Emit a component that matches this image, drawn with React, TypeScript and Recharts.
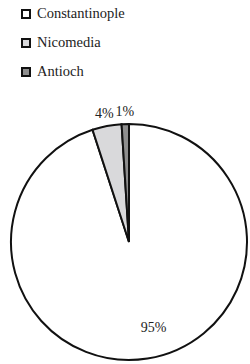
import { Cell, Pie, PieChart } from 'recharts'

const cities = ['Constantinople', 'Nicomedia', 'Antioch']
const shares = [95, 4, 1]
const fills = ['#ffffff', '#d9d9db', '#8e8e8e']

const data = cities.map((name, i) => ({ name, value: shares[i] }))

const FONT = '"Liberation Serif", "DejaVu Serif", serif'
const RAD = Math.PI / 180

function renderLabel(props: any) {
  const { cx, cy, midAngle, outerRadius, value } = props
  // the big slice keeps its label inside, the thin ones sit just above the rim
  const inside = value > 50
  const r = inside ? outerRadius * 0.73 : outerRadius + 13
  const x = cx + r * Math.cos(-midAngle * RAD) + (inside ? 11 : 0)
  const y = cy + r * Math.sin(-midAngle * RAD)
  return (
    <text
      x={x}
      y={y}
      textAnchor='middle'
      dominantBaseline='central'
      fontFamily={FONT}
      fontSize={14}
      fill='#222'
    >
      {value}%
    </text>
  )
}

function LegendList() {
  return (
    <div
      style={{
        position: 'absolute',
        top: -1,
        left: 21,
        fontFamily: FONT,
        fontSize: 14.5,
        color: '#222',
      }}
    >
      {data.map((d, i) => (
        <div
          key={d.name}
          style={{ display: 'flex', alignItems: 'center', height: 29 }}
        >
          <span
            style={{
              display: 'inline-block',
              width: 6,
              height: 6,
              border: '2px solid #111',
              background: fills[i],
              marginRight: 6,
            }}
          />
          {d.name}
        </div>
      ))}
    </div>
  )
}

export default function App() {
  return (
    <div
      style={{ position: 'relative', width: 250, height: 364, background: '#fff' }}
    >
      <style>{'body{margin:0}'}</style>
      <LegendList />
      <PieChart
        width={250}
        height={364}
        margin={{ top: 0, right: 0, bottom: 0, left: 0 }}
      >
        <Pie
          data={data}
          dataKey='value'
          nameKey='name'
          cx={129}
          cy={242}
          outerRadius={118}
          startAngle={90}
          endAngle={-270}
          stroke='#111'
          strokeWidth={2}
          label={renderLabel}
          labelLine={false}
          isAnimationActive={false}
        >
          {data.map((d, i) => (
            <Cell key={d.name} fill={fills[i]} />
          ))}
        </Pie>
      </PieChart>
    </div>
  )
}
